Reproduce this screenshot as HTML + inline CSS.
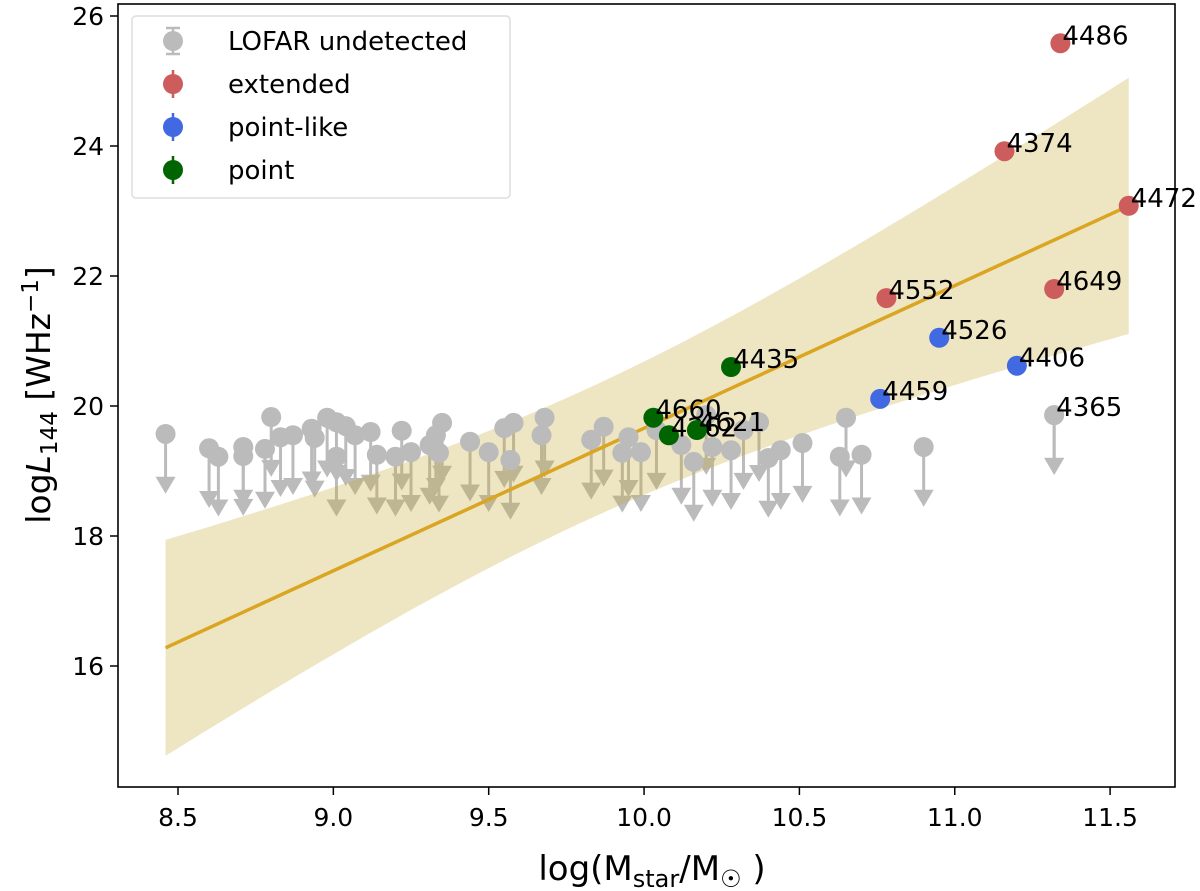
<!DOCTYPE html>
<html><head><meta charset="utf-8"><style>
html,body{margin:0;padding:0;background:#fff;}
svg{display:block;font-family:"DejaVu Sans","Liberation Sans",sans-serif;}
</style></head><body>
<svg id="chart" width="1200" height="891" viewBox="0 0 1200 891" xmlns="http://www.w3.org/2000/svg">
<g id="arrows"></g>
<path id="band" fill="#c8a838" fill-opacity="0.3" stroke="none"></path>
<path id="fit" fill="none" stroke="#daa520" stroke-width="3.5"></path>
<g id="gray"></g>
<g id="det"></g>
<rect x="118" y="4" width="1057" height="783" fill="none" stroke="#000" stroke-width="1.6"/>
<g id="xt"></g>
<g id="yt"></g>
<text x="652" y="880" font-size="34" text-anchor="middle">log(M<tspan font-size="24" dy="7">star</tspan><tspan dy="-7">/M</tspan><tspan font-size="24" dy="7">☉</tspan><tspan dy="-7"> )</tspan></text>
<text transform="translate(50,395) rotate(-90)" font-size="33" text-anchor="middle">log<tspan font-style="italic">L</tspan><tspan font-size="23" dy="7">144</tspan><tspan dy="-7"> [WHz</tspan><tspan font-size="23" dy="-12">−1</tspan><tspan dy="12">]</tspan></text>
<g>
<rect x="132" y="16" width="378" height="182" rx="4" fill="#fff" fill-opacity="0.85" stroke="#ddd" stroke-width="1.5"/>
<g><line x1="173" y1="28" x2="173" y2="54" stroke="#bbb" stroke-width="2.5"/><line x1="166" y1="28" x2="180" y2="28" stroke="#bbb" stroke-width="2.5"/><line x1="166" y1="54" x2="180" y2="54" stroke="#bbb" stroke-width="2.5"/><circle cx="173" cy="41" r="10" fill="#bbb"/><text x="228" y="50" font-size="26">LOFAR undetected</text></g>
<g><line x1="173" y1="70" x2="173" y2="98" stroke="#cd5c5c" stroke-width="2.5"/><circle cx="173" cy="84" r="10" fill="#cd5c5c"/><text x="228" y="93" font-size="26">extended</text></g>
<g><line x1="173" y1="113" x2="173" y2="141" stroke="#4169e1" stroke-width="2.5"/><circle cx="173" cy="127" r="10" fill="#4169e1"/><text x="228" y="136" font-size="26">point-like</text></g>
<g><line x1="173" y1="156" x2="173" y2="184" stroke="#006400" stroke-width="2.5"/><circle cx="173" cy="170" r="10" fill="#006400"/><text x="228" y="179" font-size="26">point</text></g>
</g>
</svg>
<script>
const grayX=[8.46,8.60,8.63,8.71,8.71,8.78,8.80,8.83,8.87,8.93,8.94,8.98,9.01,9.04,9.01,9.07,9.12,9.14,9.22,9.20,9.25,9.35,9.33,9.31,9.34,9.44,9.50,9.55,9.57,9.58,9.68,9.67,9.83,9.87,9.95,9.93,9.99,10.04,10.12,10.16,10.20,10.22,10.28,10.32,10.37,10.40,10.44,10.51,10.65,10.63,10.70,10.90,11.32];
const grayY=[19.57,19.35,19.22,19.37,19.23,19.34,19.83,19.52,19.55,19.65,19.51,19.82,19.75,19.69,19.22,19.55,19.60,19.25,19.62,19.22,19.29,19.74,19.55,19.40,19.28,19.45,19.29,19.66,19.17,19.74,19.82,19.55,19.48,19.68,19.52,19.28,19.29,19.63,19.40,19.14,19.86,19.37,19.32,19.63,19.75,19.20,19.32,19.43,19.82,19.22,19.25,19.37,19.86];
const detNames=["4486","4374","4472","4552","4649","4526","4406","4459","4435","4660","4262","4621","4365"];
const detX=[11.34,11.16,11.56,10.78,11.32,10.95,11.20,10.76,10.28,10.03,10.08,10.17,11.32];
const detY=[25.58,23.92,23.08,21.66,21.80,21.05,20.62,20.11,20.60,19.82,19.55,19.63,19.86];
const detCls=["extended","extended","extended","extended","extended","point-like","point-like","point-like","point","point","point","point","undetected"];
const fitX=[8.46,11.56];
const fitY=[16.28,23.08];
const bandA=1.02, bandB=0.943, bandX0=9.818;
const xTicks=[8.5,9.0,9.5,10.0,10.5,11.0,11.5];
const xTickLabels=["8.5","9.0","9.5","10.0","10.5","11.0","11.5"];
const yTicks=[16,18,20,22,24,26];
const yTickLabels=["16","18","20","22","24","26"];
const colors={extended:"#cd5c5c","point-like":"#4169e1",point:"#006400",undetected:"#bbb"};
const sx=v=>178+(v-8.5)*310.7;
const sy=v=>406-(v-20)*65;
const NS="http://www.w3.org/2000/svg";
function mk(tag,attrs,parent){const e=document.createElementNS(NS,tag);for(const k in attrs)e.setAttribute(k,attrs[k]);parent.appendChild(e);return e;}
const arrows=document.getElementById('arrows'),gray=document.getElementById('gray'),det=document.getElementById('det');
grayX.forEach((x,i)=>{
  const px=sx(x),py=sy(grayY[i]),tip=sy(grayY[i]-0.92);
  const g=mk('g',{},arrows);
  
  
  mk('line',{x1:px,y1:py,x2:px,y2:tip-14,stroke:'#bbb','stroke-width':3},g);
  mk('path',{d:`M${px-10},${tip-17}L${px+10},${tip-17}L${px},${tip}Z`,fill:'#bbb'},g);
  const c=mk('circle',{cx:px,cy:py,r:10,fill:'#bbb'},gray);
  
  
});
let up=[],lo=[];
for(let k=0;k<=60;k++){const x=fitX[0]+(fitX[1]-fitX[0])*k/60;const yc=fitY[0]+(fitY[1]-fitY[0])*(x-fitX[0])/(fitX[1]-fitX[0]);const hw=Math.sqrt(bandA+bandB*(x-bandX0)*(x-bandX0));up.push(sx(x)+','+sy(yc+hw));lo.unshift(sx(x)+','+sy(yc-hw));}
document.getElementById('band').setAttribute('d','M'+up.join('L')+'L'+lo.join('L')+'Z');
document.getElementById('fit').setAttribute('d',`M${sx(fitX[0])},${sy(fitY[0])}L${sx(fitX[1])},${sy(fitY[1])}`);
detNames.forEach((n,i)=>{
  const px=sx(detX[i]),py=sy(detY[i]);
  const g=mk('g',{},det);
  
  
  if(detCls[i]==='undetected'){const tip=sy(detY[i]-0.92);mk('line',{x1:px,y1:py,x2:px,y2:tip-14,stroke:'#bbb','stroke-width':3},g);mk('path',{d:`M${px-10},${tip-17}L${px+10},${tip-17}L${px},${tip}Z`,fill:'#bbb'},g);}
  mk('circle',{cx:px,cy:py,r:10,fill:colors[detCls[i]]},g);
  const t=mk('text',{x:px+2,y:py+1,'font-size':26},g);t.textContent=n;
});
const xt=document.getElementById('xt'),yt=document.getElementById('yt');
xTicks.forEach((v,i)=>{const x=sx(v);mk('line',{x1:x,y1:787,x2:x,y2:795,stroke:'#000','stroke-width':1.5},xt);const t=mk('text',{x:x,y:826,'font-size':25,'text-anchor':'middle'},xt);t.textContent=xTickLabels[i];});
yTicks.forEach((v,i)=>{const y=sy(v);mk('line',{x1:110,y1:y,x2:118,y2:y,stroke:'#000','stroke-width':1.5},yt);const t=mk('text',{x:104,y:y+9,'font-size':25,'text-anchor':'end'},yt);t.textContent=yTickLabels[i];});
</script>
</body></html>
